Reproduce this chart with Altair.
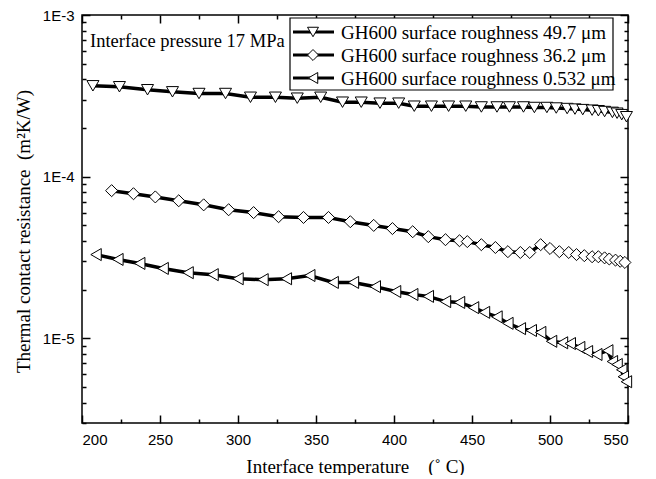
import altair as alt
import pandas as pd

labels = ["GH600 surface roughness 49.7 μm",
          "GH600 surface roughness 36.2 μm",
          "GH600 surface roughness 0.532 μm"]
note = "Interface pressure 17 MPa"

t1 = [207, 224, 242, 258, 275, 292, 308, 324, 338, 353, 367, 379, 391, 403, 413, 424, 435, 446,
      456, 466, 474, 483, 490, 498, 504, 511, 516, 521, 527, 531, 535, 540, 543, 546, 549]
r1 = [3.65e-4, 3.60e-4, 3.45e-4, 3.35e-4, 3.27e-4, 3.27e-4, 3.10e-4, 3.10e-4, 3.06e-4, 3.10e-4,
      2.89e-4, 2.89e-4, 2.85e-4, 2.85e-4, 2.73e-4, 2.73e-4, 2.73e-4, 2.73e-4, 2.70e-4, 2.70e-4,
      2.70e-4, 2.70e-4, 2.68e-4, 2.68e-4, 2.66e-4, 2.64e-4, 2.62e-4, 2.60e-4, 2.58e-4, 2.56e-4,
      2.53e-4, 2.50e-4, 2.47e-4, 2.42e-4, 2.35e-4]

t2 = [219, 233, 247, 262, 278, 294, 310, 326, 342, 358, 372, 387, 399, 412, 422, 433, 442, 447,
      456, 465, 473, 481, 487, 494, 500, 506, 512, 517, 522, 527, 531, 535, 538, 542, 545, 548]
r2 = [8.2e-5, 7.85e-5, 7.5e-5, 7.1e-5, 6.7e-5, 6.25e-5, 6.0e-5, 5.66e-5, 5.6e-5, 5.6e-5,
      5.27e-5, 5.0e-5, 4.78e-5, 4.57e-5, 4.26e-5, 4.08e-5, 4.02e-5, 3.97e-5, 3.8e-5, 3.65e-5,
      3.44e-5, 3.4e-5, 3.4e-5, 3.8e-5, 3.6e-5, 3.44e-5, 3.4e-5, 3.3e-5, 3.25e-5, 3.2e-5,
      3.2e-5, 3.15e-5, 3.1e-5, 3.05e-5, 3.0e-5, 2.95e-5]

t3 = [209, 223, 237, 252, 268, 284, 300, 316, 331, 346, 361, 374, 388, 401, 412, 422, 433, 442,
      451, 458, 466, 473, 481, 488, 494, 501, 508, 513, 519, 524, 530, 537, 540, 543, 546, 547, 549]
r3 = [3.3e-5, 3.08e-5, 2.91e-5, 2.71e-5, 2.55e-5, 2.48e-5, 2.34e-5, 2.31e-5, 2.34e-5, 2.45e-5,
      2.22e-5, 2.22e-5, 2.09e-5, 1.95e-5, 1.87e-5, 1.82e-5, 1.69e-5, 1.67e-5, 1.55e-5, 1.45e-5,
      1.36e-5, 1.24e-5, 1.15e-5, 1.12e-5, 1.09e-5, 9.6e-6, 9.4e-6, 9.3e-6, 8.8e-6, 8.3e-6,
      7.96e-6, 8.4e-6, 7.2e-6, 6.9e-6, 6.4e-6, 5.8e-6, 5.4e-6]

x_major = [200, 250, 300, 350, 400, 450, 500, 550]
x_all = list(range(200, 551, 25))
y_major = [1e-5, 1e-4, 1e-3]
y_all = [float(f"{m}e{e}") for e in (-6, -5, -4) for m in range(1, 10)
         if float(f"{m}e{e}") >= 3e-6] + [1e-3]

rows = []
for lab, ts, rs in zip(labels, [t1, t2, t3], [r1, r2, r3]):
    for t, r in zip(ts, rs):
        rows.append({"T": t, "R": r, "series": lab})
df = pd.DataFrame(rows)
leg_df = pd.DataFrame({"series": labels, "idx": [0, 1, 2]})

W, H = 546, 408
xs = alt.Scale(domain=[200, 550], nice=False, zero=False)
ys = alt.Scale(type="log", domain=[3e-6, 1e-3], nice=False)

marker_shapes = ["triangle-down", "diamond", "triangle-left"]
shape_scale = alt.Scale(domain=labels, range=marker_shapes)

x_tick = {"condition": {"test": "datum.value % 50 === 0", "value": 8}, "value": 4}
y_tick = {"condition": {"test": "abs(log(datum.value)/LN10 - round(log(datum.value)/LN10)) < 0.001",
                        "value": 8}, "value": 4}

tick_axis = dict(labels=False, domain=False, grid=False, title=None, ticks=True,
                 tickColor="black", tickWidth=1.5)

base = alt.Chart(df)

lines = base.mark_line(color="black", strokeWidth=3.5).encode(
    x=alt.X("T:Q", scale=xs, axis=alt.Axis(
        orient="bottom", values=x_major, ticks=False, tickSize=0, domain=False, grid=False,
        labelFont="Liberation Sans", labelFontSize=15, labelColor="black", labelPadding=9,
        title="Interface temperature\u00a0\u00a0\u00a0\u00a0(\u02da\u00a0C)",
        titleFont="Liberation Serif", titleFontSize=19, titleFontWeight="normal",
        titleColor="black", titlePadding=10)),
    y=alt.Y("R:Q", scale=ys, axis=alt.Axis(
        orient="left", values=y_major, ticks=False, tickSize=0, domain=False, grid=False,
        labelExpr="'1E' + round(log(datum.value)/LN10)",
        labelFont="Liberation Sans", labelFontSize=15, labelColor="black", labelPadding=8,
        title="Thermal contact resistance\u00a0\u00a0(m\u00b2K/W)",
        titleFont="Liberation Serif", titleFontSize=19, titleFontWeight="normal",
        titleColor="black", titlePadding=9, titleY=216)),
    detail="series:N",
)

points = base.mark_point(filled=True, fill="white", stroke="black", strokeWidth=1,
                         size=145, opacity=1).encode(
    x=alt.X("T:Q", scale=xs, axis=alt.Axis(orient="top", offset=-H, values=x_all,
                                           tickSize=x_tick, **tick_axis)),
    y=alt.Y("R:Q", scale=ys, axis=alt.Axis(orient="right", offset=-W, values=y_all,
                                           tickSize=y_tick, **tick_axis)),
    shape=alt.Shape("series:N", scale=shape_scale, legend=None),
)

# invisible layer carrying the inward ticks of the top and right edges
ticks_layer = base.mark_point(size=0, opacity=0).encode(
    x=alt.X("T:Q", scale=xs, axis=alt.Axis(orient="bottom", offset=-H, values=x_all,
                                           tickSize=x_tick, **tick_axis)),
    y=alt.Y("R:Q", scale=ys, axis=alt.Axis(orient="left", offset=-W, values=y_all,
                                           tickSize=y_tick, **tick_axis)),
)

# legend drawn from the label list
leg_y = alt.Y("idx:Q", scale=alt.Scale(domain=[0, 2], range=[17, 63]), axis=None)
leg_box = alt.Chart(pd.DataFrame({"b": [0]})).mark_rect(
    fill="white", stroke="black", strokeWidth=1.2
).encode(x=alt.value(208), x2=alt.value(531), y=alt.value(3), y2=alt.value(75))
leg_lines = alt.Chart(leg_df).mark_rule(color="black", strokeWidth=3).encode(
    x=alt.value(211), x2=alt.value(252), y=leg_y)
leg_marks = alt.Chart(leg_df).mark_point(filled=True, fill="white", stroke="black",
                                         strokeWidth=1, size=120, opacity=1).encode(
    x=alt.value(231), y=leg_y, shape=alt.Shape("series:N", scale=shape_scale, legend=None))
leg_text = alt.Chart(leg_df).mark_text(
    font="Liberation Serif", fontSize=19, align="left", baseline="middle", color="black", dy=1
).encode(x=alt.value(259), y=leg_y, text="series:N")

text = alt.Chart(pd.DataFrame({"note": [note]})).mark_text(
    font="Liberation Serif", fontSize=18.5, align="left", baseline="alphabetic", color="black"
).encode(x=alt.value(8), y=alt.value(32), text="note:N")

chart = alt.layer(lines, points, ticks_layer, leg_box, leg_lines, leg_marks, leg_text, text
).resolve_scale(y="independent").resolve_axis(x="independent", y="independent").properties(
    width=W, height=H,
    autosize=alt.AutoSizeParams(type="none"),
    padding={"left": 74, "top": 7, "right": 20, "bottom": 52},
).configure_view(stroke="black", strokeWidth=1.5)

chart.save("out.html", embed_options={"renderer": "svg", "actions": False})
